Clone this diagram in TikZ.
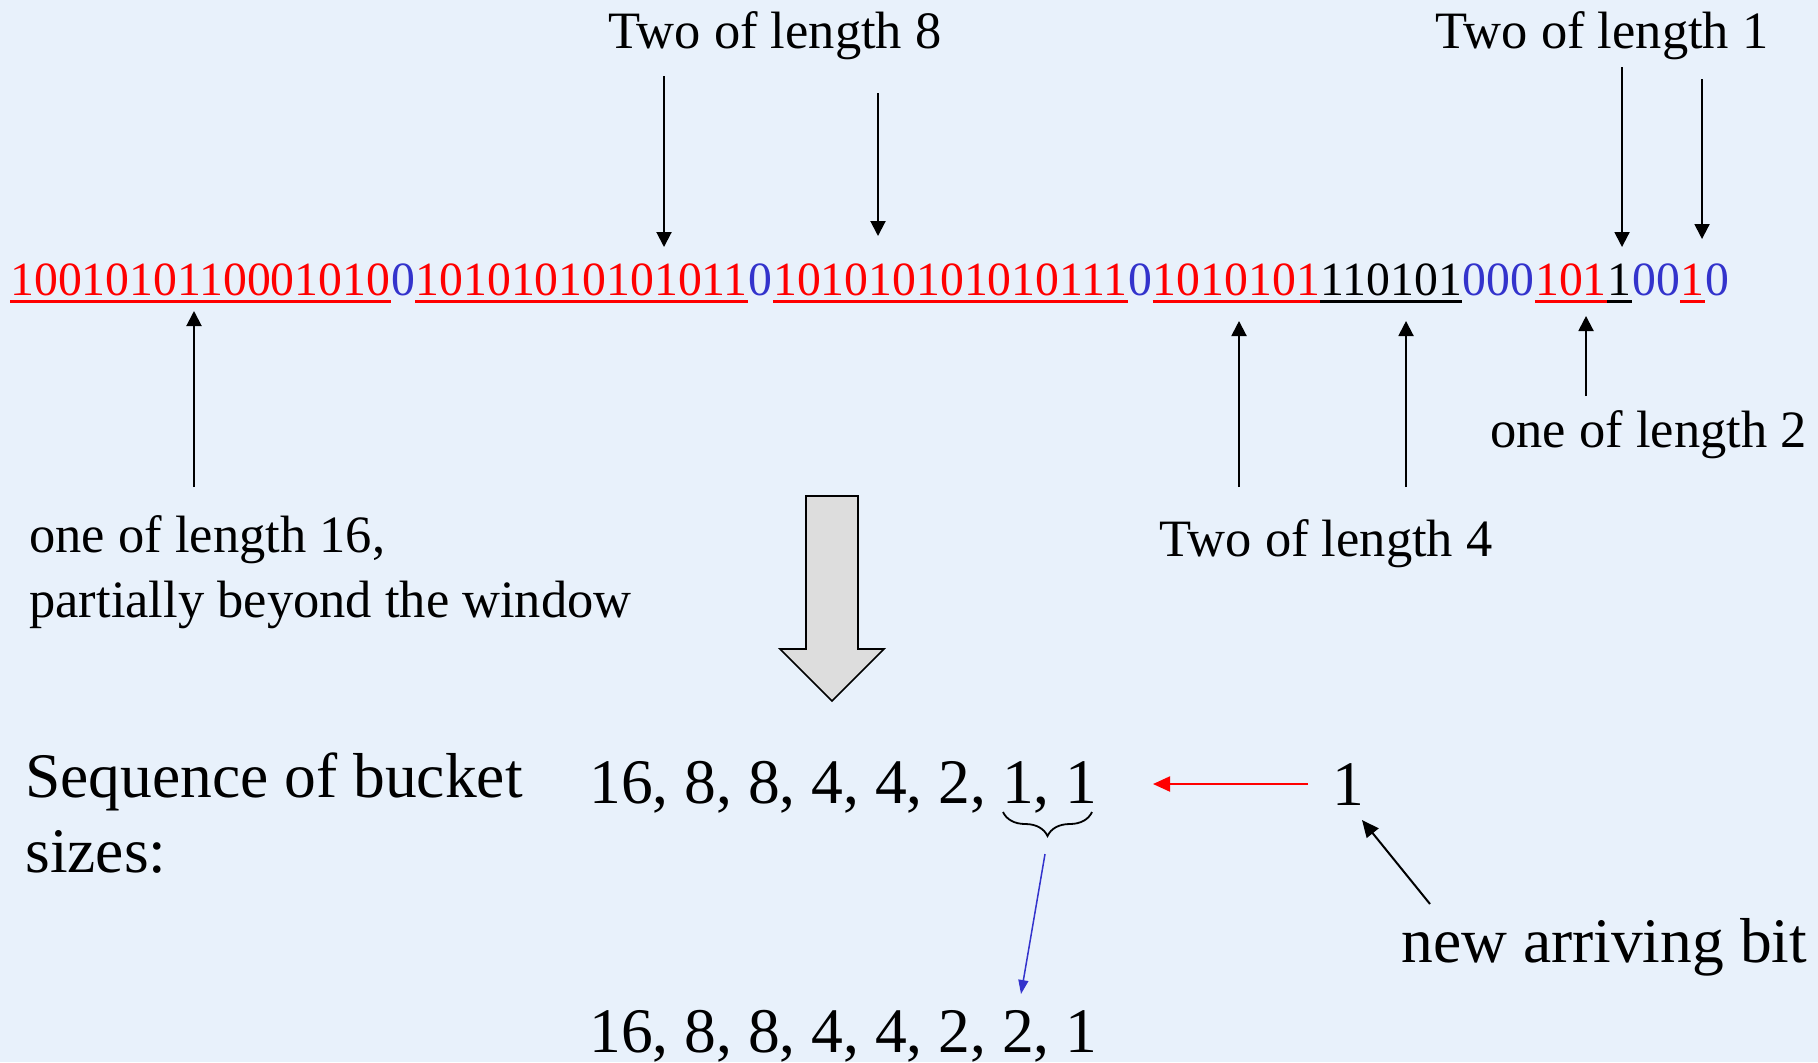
\documentclass[tikz,border=0pt]{standalone}
\usepackage{fontspec}
\setmainfont{Liberation Serif}
\usetikzlibrary{arrows.meta,decorations.pathreplacing,calc}
\definecolor{bg}{RGB}{232,241,251}
\definecolor{bblue}{RGB}{51,51,204}
\definecolor{agray}{RGB}{221,221,221}
\begin{document}
\begin{tikzpicture}[x=0.5pt,y=-0.5pt,
  bits/.style={font=\fontsize{23.85pt}{28pt}\selectfont, inner sep=0pt, anchor=base west},
  lbl/.style={font=\fontsize{26.25pt}{31pt}\selectfont, inner sep=0pt, anchor=base west},
  big/.style={font=\fontsize{31.75pt}{38pt}\selectfont, inner sep=0pt, anchor=base west},
  ul/.style={line width=1.35pt},
  tharrow/.style={line width=1pt, -{Triangle[width=7.5pt,length=7.5pt]}},
]
\fill[bg] (0,0) rectangle (1818,1062);
\useasboundingbox (0,0) rectangle (1818,1062);

% bit string
\node[bits,text=red]   (s1) at (10,295) {1001010110001010};
\node[bits,text=bblue] (z1) at (s1.base east) {0};
\node[bits,text=red]   (s2) at (z1.base east) {10101010101011};
\node[bits,text=bblue] (z2) at (s2.base east) {0};
\node[bits,text=red]   (s3) at (z2.base east) {101010101010111};
\node[bits,text=bblue] (z3) at (s3.base east) {0};
\node[bits,text=red]   (s4) at (z3.base east) {1010101};
\node[bits]            (s5) at (s4.base east) {110101};
\node[bits,text=bblue] (z4) at (s5.base east) {000};
\node[bits,text=red]   (s6) at (z4.base east) {101};
\node[bits]            (s7) at (s6.base east) {1};
\node[bits,text=bblue] (z5) at (s7.base east) {00};
\node[bits,text=red]   (s8) at (z5.base east) {1};
\node[bits,text=bblue] (z6) at (s8.base east) {0};

\foreach \s/\c in {s1/red,s2/red,s3/red,s4/red,s5/black,s6/red,s7/black,s8/red}{
  \draw[ul,\c] ($(\s.base west)+(0,6.7)$) -- ($(\s.base east)+(0,6.7)$);
}

% labels
\node[lbl] (lab8)  at (608,48)  {Two of length 8};
\node[lbl] (lab1)  at (1435,48) {Two of length 1};
\node[lbl] (lab2)  at (1490,447) {one of length 2};
\node[lbl] (lab4)  at (1159,556) {Two of length 4};
\node[lbl] (lab16a) at (29,552) {one of length 16,};
\node[lbl] (lab16b) at (29,617) {partially beyond the window};

% top arrows
\coordinate (a1s) at (664,76);  \coordinate (a1e) at (664,247);
\coordinate (a2s) at (878,93);  \coordinate (a2e) at (878,236);
\coordinate (a3s) at (1622,67); \coordinate (a3e) at (1622,247);
\coordinate (a4s) at (1702,79); \coordinate (a4e) at (1702,239);
\draw[tharrow] (a1s) -- (a1e);
\draw[tharrow] (a2s) -- (a2e);
\draw[tharrow] (a3s) -- (a3e);
\draw[tharrow] (a4s) -- (a4e);

% bottom arrows
\coordinate (b1s) at (194,487);  \coordinate (b1e) at (194,311);
\coordinate (b2s) at (1239,487); \coordinate (b2e) at (1239,321);
\coordinate (b3s) at (1406,487); \coordinate (b3e) at (1406,321);
\coordinate (b4s) at (1586,396); \coordinate (b4e) at (1586,316);
\draw[tharrow] (b1s) -- (b1e);
\draw[tharrow] (b2s) -- (b2e);
\draw[tharrow] (b3s) -- (b3e);
\draw[tharrow] (b4s) -- (b4e);

% big arrow
\draw[fill=agray, line width=0.85pt, line join=miter]
  (806,496) -- (858,496) -- (858,649) -- (884,649) -- (832,701) -- (780,649) -- (806,649) -- cycle;

% bucket sizes
\node[big] (seqA) at (25,797) {Sequence of bucket};
\node[big] (seqB) at (25,872) {sizes:};
\node[big] (row1) at (589,803) {16, 8, 8, 4, 4, 2, 1, 1};
\node[big] (row2) at (589,1052) {16, 8, 8, 4, 4, 2, 2, 1};
\node[big] (one)  at (1332,805) {1};
\node[big] (newb) at (1401,962) {new arriving bit};

\draw[decorate, decoration={brace, mirror, amplitude=12pt}, line width=0.9pt]
  (1003,812) -- (1092,812);

\coordinate (rs) at (1308,784); \coordinate (re) at (1153,784);
\draw[red, line width=1pt, -{Triangle[width=7.5pt,length=8.5pt]}] (rs) -- (re);

\coordinate (ks) at (1430,904); \coordinate (ke) at (1362,820);
\draw[line width=1pt, -{Triangle[width=7.5pt,length=8.5pt]}] (ks) -- (ke);

\coordinate (bs) at (1045,854); \coordinate (be) at (1021,994);
\draw[bblue, line width=0.75pt, -{Triangle[width=5pt,length=7pt]}] (bs) -- (be);
\end{tikzpicture}
\end{document}
